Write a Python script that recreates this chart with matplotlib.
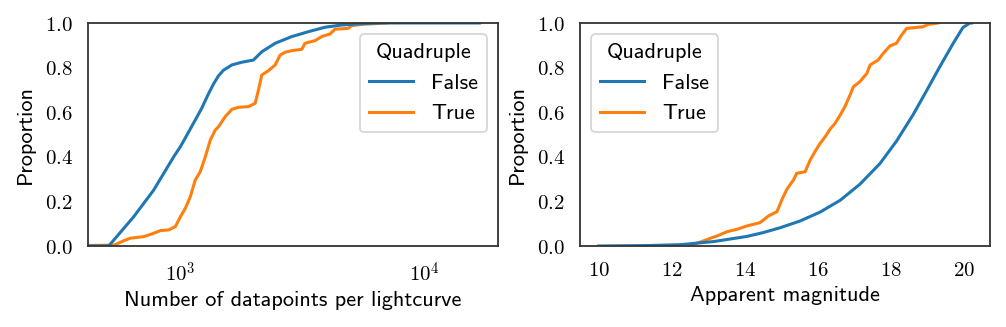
import matplotlib
matplotlib.use("Agg")
import matplotlib.pyplot as plt

plt.rcParams['mathtext.fontset'] = 'cm'
plt.rcParams['font.family'] = ['cmss10', 'DejaVu Sans']
plt.rcParams['axes.unicode_minus'] = False

BLUE = '#1f77b4'
ORANGE = '#ff7f0e'

# ECDF: number of datapoints per lightcurve
npts_false_x = [509, 644, 778, 939, 1000, 1151, 1222, 1300, 1364, 1430, 1500, 1625, 1785, 1992,
                2154, 2443, 2856, 3341, 3908, 4571, 5345, 6500, 16750]
npts_false_y = [0.0, 0.131, 0.251, 0.400, 0.445, 0.565, 0.617, 0.680, 0.725, 0.762, 0.788,
                0.812, 0.824, 0.834, 0.871, 0.909, 0.939, 0.961, 0.981, 0.991, 0.996, 1.0, 1.0]

npts_true_x = [535, 588, 625, 708, 778, 828, 895, 954, 1000, 1048, 1098, 1151, 1206, 1265,
               1326, 1389, 1433, 1526, 1625, 1730, 1900, 2024, 2088, 2154, 2293, 2443, 2560,
               2684, 2856, 3140, 3237, 3556, 3785, 4095, 4293, 4867, 5018, 5516, 6980]
npts_true_y = [0.004, 0.024, 0.035, 0.042, 0.057, 0.069, 0.072, 0.087, 0.131, 0.169, 0.221,
               0.296, 0.333, 0.400, 0.475, 0.520, 0.535, 0.580, 0.613, 0.622, 0.625, 0.640,
               0.700, 0.767, 0.786, 0.812, 0.856, 0.869, 0.876, 0.882, 0.909, 0.921, 0.939,
               0.951, 0.972, 0.976, 0.988, 0.994, 1.0]

# ECDF: apparent magnitude
mag_false_x = [10.0, 11.33, 12.24, 13.15, 14.06, 14.5, 14.97, 15.51, 16.06, 16.61, 17.15,
               17.70, 18.15, 18.61, 18.97, 19.34, 19.70, 19.97, 20.16, 20.21]
mag_false_y = [0.0, 0.002, 0.006, 0.020, 0.043, 0.060, 0.082, 0.112, 0.152, 0.205, 0.277,
               0.370, 0.470, 0.590, 0.695, 0.805, 0.908, 0.980, 1.0, 1.0]

mag_true_x = [12.5, 12.69, 13.06, 13.24, 13.51, 13.79, 14.06, 14.42, 14.65, 14.88, 15.01,
              15.15, 15.33, 15.42, 15.65, 15.79, 15.92, 16.06, 16.20, 16.33, 16.47, 16.61,
              16.74, 16.88, 16.97, 17.15, 17.34, 17.43, 17.65, 17.79, 17.97, 18.15, 18.29,
              18.43, 18.88, 19.02, 19.29]
mag_true_y = [0.0, 0.012, 0.035, 0.045, 0.064, 0.075, 0.090, 0.105, 0.135, 0.154, 0.206,
              0.254, 0.296, 0.326, 0.333, 0.386, 0.423, 0.460, 0.490, 0.523, 0.550, 0.587,
              0.625, 0.677, 0.714, 0.737, 0.774, 0.812, 0.834, 0.864, 0.897, 0.909, 0.946,
              0.976, 0.983, 0.994, 1.0]

yticks = [0.0, 0.2, 0.4, 0.6, 0.8, 1.0]

fig = plt.figure(figsize=(10.06, 3.27), dpi=100)
ax1 = fig.add_axes([88 / 1006, 81 / 327, 410 / 1006, 223 / 327])
ax2 = fig.add_axes([580 / 1006, 81 / 327, 410 / 1006, 223 / 327])

# left panel: datapoints per lightcurve (log scale); True drawn first so False sits on top
t1, = ax1.plot([300] + npts_true_x, [0.0] + npts_true_y, color=ORANGE, lw=2.2, label='True')
f1, = ax1.plot([300] + npts_false_x, [0.0] + npts_false_y, color=BLUE, lw=2.2, label='False')
ax1.set_xscale('log')
ax1.set_xlim(10 ** 2.622, 10 ** 4.300)
ax1.set_xticks([1e3, 1e4])
ax1.set_xticklabels(['$10^3$', '$10^4$'])
ax1.xaxis.set_minor_locator(matplotlib.ticker.NullLocator())
ax1.set_xlabel('Number of datapoints per lightcurve')

# right panel: apparent magnitude
t2, = ax2.plot(mag_true_x, mag_true_y, color=ORANGE, lw=2.2, label='True')
f2, = ax2.plot(mag_false_x, mag_false_y, color=BLUE, lw=2.2, label='False')
ax2.set_xlim(9.49, 20.71)
xt = [10, 12, 14, 16, 18, 20]
ax2.set_xticks(xt)
ax2.set_xticklabels(['$%d$' % v for v in xt])
ax2.set_xlabel('Apparent magnitude')

for ax, loc, handles in [(ax1, 'upper right', [f1, t1]), (ax2, 'upper left', [f2, t2])]:
    ax.set_ylim(0, 1)
    ax.set_yticks(yticks)
    ax.set_yticklabels(['$%.1f$' % v for v in yticks])
    ax.set_ylabel('Proportion', fontsize=16, labelpad=7)
    ax.xaxis.label.set_fontsize(16)
    ax.tick_params(length=0, pad=11, labelsize=15)
    for s in ax.spines.values():
        s.set_color('.2')
        s.set_linewidth(1.3)
    leg = ax.legend(handles=handles, title='Quadruple', loc=loc, fontsize=16, title_fontsize=16,
                    frameon=True, fancybox=True, framealpha=0.8, edgecolor='#cccccc',
                    handlelength=2.0, borderaxespad=0.5)
    leg.get_frame().set_linewidth(1.3)

fig.savefig('out.png', dpi=100)
